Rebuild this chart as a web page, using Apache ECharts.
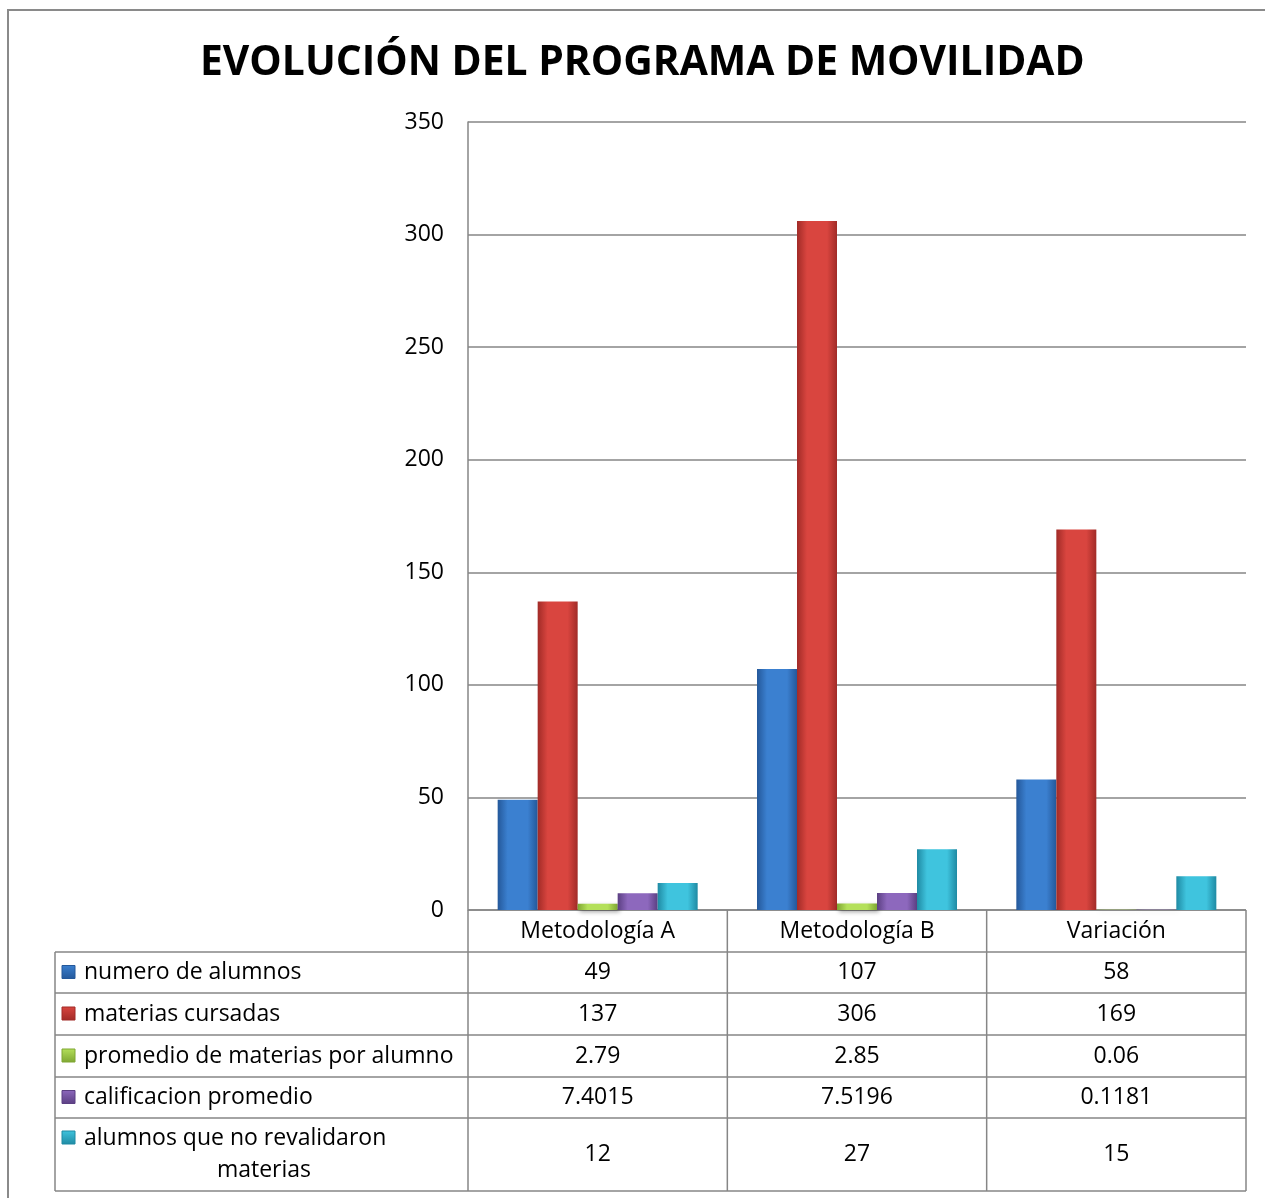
<!DOCTYPE html>
<html>
<head>
<meta charset="utf-8">
<title>Evolución del programa de movilidad</title>
<script src="https://cdn.jsdelivr.net/npm/echarts@6/dist/echarts.min.js"></script>
<style>
  html, body { margin: 0; padding: 0; background: #fff; }
  #main { width: 1265px; height: 1198px; }
</style>
</head>
<body>
<div id="main"></div>
<script>
// datos
var categorias = ['Metodología A', 'Metodología B', 'Variación'];
var series_nombres = ['numero de alumnos', 'materias cursadas', 'promedio de materias por alumno', 'calificacion promedio', 'alumnos que no revalidaron\nmaterias'];
var numero_alumnos = [49, 107, 58];
var materias_cursadas = [137, 306, 169];
var promedio_materias = [2.79, 2.85, 0.06];
var calificacion_promedio = [7.4015, 7.5196, 0.1181];
var no_revalidaron = [12, 27, 15];
var y_ticks = [0, 50, 100, 150, 200, 250, 300, 350];

var valores = [numero_alumnos, materias_cursadas, promedio_materias, calificacion_promedio, no_revalidaron];
// colores: borde oscuro, centro claro
var colores = [
  ['#24589a', '#3b80d0'],
  ['#a12b27', '#d9453f'],
  ['#7ea632', '#b4e05a'],
  ['#5b3f82', '#8d68bd'],
  ['#1f8aa3', '#3fc4de']
];

var FONT = 'Open Sans';
var FS = 23;
var G_LEFT = 468, G_RIGHT = 1246, G_TOP = 122, G_BOTTOM = 910;
var TABLA_IZQ = 55;
var filas_y = [952, 993, 1035, 1077, 1118, 1191];

var chart = echarts.init(document.getElementById('main'));

function grad(c) {
  return new echarts.graphic.LinearGradient(0, 0, 1, 0, [
    {offset: 0, color: c[0]},
    {offset: 0.25, color: c[1]},
    {offset: 0.75, color: c[1]},
    {offset: 1, color: c[0]}
  ]);
}

var series = valores.map(function(v, i) {
  return {
    name: series_nombres[i],
    type: 'bar',
    data: v,
    barWidth: 40,
    barGap: '0%',
    itemStyle: {
      color: grad(colores[i]),
      shadowColor: 'rgba(0,0,0,0.35)',
      shadowBlur: 4,
      shadowOffsetX: 2,
      shadowOffsetY: 2
    }
  };
});

var option = {
  animation: false,
  title: {
    text: 'EVOLUCIÓN DEL PROGRAMA DE MOVILIDAD',
    left: 195,
    top: 38,
    textStyle: {fontFamily: FONT, fontWeight: 'bold', fontSize: 40.8, color: '#000'}
  },
  grid: {left: G_LEFT, right: 1265 - G_RIGHT, top: G_TOP, bottom: 1198 - G_BOTTOM},
  xAxis: {
    type: 'category',
    data: categorias,
    axisLine: {show: false},
    axisTick: {show: false},
    axisLabel: {fontFamily: FONT, fontSize: FS, color: '#000', margin: 10}
  },
  yAxis: {
    type: 'value',
    min: 0, max: 350, interval: 50,
    axisLine: {show: true, lineStyle: {color: '#868686', width: 1.5}},
    axisTick: {show: false},
    axisLabel: {fontFamily: FONT, fontSize: FS, color: '#000', margin: 24},
    splitLine: {lineStyle: {color: '#868686', width: 1.5}}
  },
  series: series
};
chart.setOption(option);

// tabla de datos debajo del eje
function construirTabla() {
  var els = [];
  var linea = {stroke: '#868686', lineWidth: 1.5};
  // marco exterior
  els.push({type: 'rect', shape: {x: 8, y: 10, width: 1400, height: 1400}, style: {fill: null, stroke: '#8a8a8a', lineWidth: 2}, silent: true});
  // fila de cabecera
  els.push({type: 'line', shape: {x1: G_LEFT, y1: G_BOTTOM, x2: G_RIGHT, y2: G_BOTTOM}, style: linea});
  filas_y.forEach(function(y) {
    els.push({type: 'line', shape: {x1: TABLA_IZQ, y1: y, x2: G_RIGHT, y2: y}, style: linea});
  });
  var paso = (G_RIGHT - G_LEFT) / categorias.length;
  for (var k = 0; k <= categorias.length; k++) {
    var x = G_LEFT + paso * k;
    els.push({type: 'line', shape: {x1: x, y1: G_BOTTOM, x2: x, y2: filas_y[filas_y.length - 1]}, style: linea});
  }
  els.push({type: 'line', shape: {x1: TABLA_IZQ, y1: filas_y[0], x2: TABLA_IZQ, y2: filas_y[filas_y.length - 1]}, style: linea});

  for (var i = 0; i < series_nombres.length; i++) {
    var y0 = filas_y[i], y1 = filas_y[i + 1];
    var cy = (y0 + y1) / 2;
    var primeraLinea = i === 4 ? y0 + 20 : cy;
    // clave de leyenda
    els.push({
      type: 'rect',
      shape: {x: 62, y: primeraLinea - 7, width: 13, height: 13},
      style: {
        fill: new echarts.graphic.LinearGradient(0, 0, 0, 1, [
          {offset: 0, color: colores[i][1]}, {offset: 1, color: colores[i][0]}
        ]),
        stroke: colores[i][0], lineWidth: 1
      }
    });
    var partes = series_nombres[i].split('\n');
    els.push({
      type: 'text',
      style: {text: partes[0], x: 84, y: primeraLinea, fontFamily: FONT, fontSize: FS, fill: '#000', verticalAlign: 'middle'}
    });
    if (partes[1]) {
      els.push({
        type: 'text',
        style: {text: partes[1], x: 264, y: primeraLinea + 32, fontFamily: FONT, fontSize: FS, fill: '#000', align: 'center', verticalAlign: 'middle'}
      });
    }
    for (var c = 0; c < categorias.length; c++) {
      var px = chart.convertToPixel({xAxisIndex: 0}, categorias[c]);
      els.push({
        type: 'text',
        style: {text: String(valores[i][c]), x: px, y: cy, fontFamily: FONT, fontSize: FS, fill: '#000', align: 'center', verticalAlign: 'middle'}
      });
    }
  }
  return els;
}
chart.setOption({graphic: {elements: construirTabla()}});
</script>
</body>
</html>
